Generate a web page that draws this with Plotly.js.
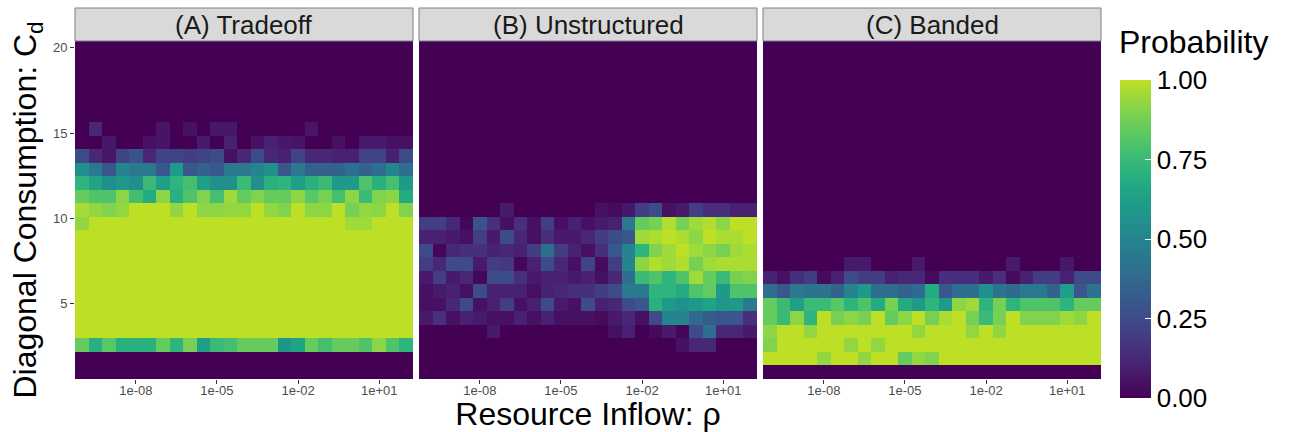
<!DOCTYPE html>
<html>
<head>
<meta charset="utf-8">
<script src="https://cdn.plot.ly/plotly-3.0.1.min.js"></script>
<style>html,body{margin:0;padding:0;background:#fff;}#chart{width:1291px;height:432px;}</style>
</head>
<body>
<div id="chart"></div>
<script>
// Resource inflow rho, as log10 exponents (tile centres)
const rhoExponent = [-10,-9.5,-9,-8.5,-8,-7.5,-7,-6.5,-6,-5.5,-5,-4.5,-4,-3.5,-3,-2.5,-2,-1.5,-1,-0.5,0,0.5,1,1.5,2];
// Diagonal consumption Cd (tile centres)
const cdValues = [1,1.7917,2.5833,3.375,4.1667,4.9583,5.75,6.5417,7.3333,8.125,8.9167,9.7083,10.5,11.2917,12.0833,12.875,13.6667,14.4583,15.25,16.0417,16.8333,17.625,18.4167,19.2083,20];
const xTickVals = [-8,-5,-2,1];
const xTickText = ['1e-08','1e-05','1e-02','1e+01'];
const yTickVals = [5,10,15,20];
const panelTitles = ['(A) Tradeoff','(B) Unstructured','(C) Banded'];
const probTicks = [0,0.25,0.5,0.75,1];
const probTickText = ['0.00','0.25','0.50','0.75','1.00'];

// Probability, rows = Cd (ascending), columns = rho
const probTradeoff = [
[0,0,0,0,0,0,0,0,0,0,0,0,0,0,0,0,0,0,0,0,0,0,0,0,0],
[0,0,0,0,0,0,0,0,0,0,0,0,0,0,0,0,0,0,0,0,0,0,0,0,0],
[0.85,0.7,0.82,0.7,0.7,0.7,0.85,0.72,0.88,0.62,0.75,0.78,0.85,0.85,0.85,0.58,0.65,0.85,0.78,0.85,0.85,0.8,0.92,0.8,0.72],
[1,1,1,1,1,1,1,1,1,1,1,1,1,1,1,1,1,1,1,1,1,1,1,1,1],
[1,1,1,1,1,1,1,1,1,1,1,1,1,1,1,1,1,1,1,1,1,1,1,1,1],
[1,1,1,1,1,1,1,1,1,1,1,1,1,1,1,1,1,1,1,1,1,1,1,1,1],
[1,1,1,1,1,1,1,1,1,1,1,1,1,1,1,1,1,1,1,1,1,1,1,1,1],
[1,1,1,1,1,1,1,1,1,1,1,1,1,1,1,1,1,1,1,1,1,1,1,1,1],
[1,1,1,1,1,1,1,1,1,1,1,1,1,1,1,1,1,1,1,1,1,1,1,1,1],
[1,1,1,1,1,1,1,1,1,1,1,1,1,1,1,1,1,1,1,1,1,1,1,1,1],
[1,1,1,1,1,1,1,1,1,1,1,1,1,1,1,1,1,1,1,1,1,1,1,1,1],
[0.93,1,1,1,1,1,1,1,1,1,1,1,1,1,1,1,1,1,1,1,0.95,0.95,1,1,1],
[0.96,0.93,0.9,0.93,1,1,1,0.93,1,0.92,0.92,0.93,0.93,1,0.93,0.9,1,0.92,0.92,1,0.88,0.93,0.92,1,0.9],
[0.85,0.8,0.8,0.92,0.78,0.68,0.92,0.7,0.8,0.9,0.78,0.95,0.85,0.9,0.85,0.85,0.92,0.82,0.88,0.78,0.92,0.75,0.9,0.92,0.68],
[0.72,0.65,0.55,0.6,0.55,0.75,0.62,0.72,0.78,0.62,0.55,0.55,0.75,0.55,0.7,0.72,0.62,0.7,0.75,0.6,0.6,0.8,0.7,0.78,0.6],
[0.55,0.45,0.3,0.5,0.45,0.45,0.3,0.6,0.3,0.35,0.3,0.45,0.45,0.5,0.55,0.3,0.45,0.35,0.35,0.35,0.4,0.35,0.4,0.5,0.4],
[0.25,0.12,0.07,0.22,0.28,0.12,0.22,0.22,0.2,0.22,0.25,0.05,0.12,0.25,0.12,0.1,0.22,0.12,0.12,0.1,0.1,0.22,0.22,0.1,0.25],
[0,0,0.07,0,0,0.05,0.06,0,0,0.08,0,0.1,0,0.05,0.1,0.07,0.06,0,0,0.05,0,0.08,0.08,0.05,0.05],
[0,0.12,0,0,0,0,0.06,0,0.05,0,0.07,0.07,0,0,0,0,0,0.06,0,0,0,0,0,0,0],
[0,0,0,0,0,0,0,0,0,0,0,0,0,0,0,0,0,0,0,0,0,0,0,0,0],
[0,0,0,0,0,0,0,0,0,0,0,0,0,0,0,0,0,0,0,0,0,0,0,0,0],
[0,0,0,0,0,0,0,0,0,0,0,0,0,0,0,0,0,0,0,0,0,0,0,0,0],
[0,0,0,0,0,0,0,0,0,0,0,0,0,0,0,0,0,0,0,0,0,0,0,0,0],
[0,0,0,0,0,0,0,0,0,0,0,0,0,0,0,0,0,0,0,0,0,0,0,0,0],
[0,0,0,0,0,0,0,0,0,0,0,0,0,0,0,0,0,0,0,0,0,0,0,0,0]
];

const probUnstructured = [
[0,0,0,0,0,0,0,0,0,0,0,0,0,0,0,0,0,0,0,0,0,0,0,0,0],
[0,0,0,0,0,0,0,0,0,0,0,0,0,0,0,0,0,0,0,0,0,0,0,0,0],
[0,0,0,0,0,0,0,0,0,0,0,0,0,0,0,0,0,0,0,0.05,0.12,0.12,0,0,0],
[0,0,0,0,0,0.08,0,0,0,0,0,0,0,0,0.05,0.1,0,0.03,0.08,0.02,0.25,0.4,0.12,0.12,0.08],
[0.08,0.15,0.05,0.1,0.08,0.05,0.05,0.1,0.05,0.1,0.05,0.05,0.05,0.03,0.08,0.12,0.05,0.25,0.5,0.5,0.38,0.32,0.3,0.3,0.15],
[0.05,0.05,0.12,0.25,0.05,0.1,0.2,0.05,0.1,0.25,0.08,0.05,0.25,0.1,0.12,0.25,0.3,0.7,0.6,0.55,0.6,0.65,0.58,0.6,0.45],
[0.05,0.08,0.1,0.05,0.25,0.1,0.1,0.1,0.05,0.1,0.12,0.15,0.15,0.2,0.25,0.45,0.45,0.72,0.72,0.68,0.8,0.84,0.6,0.8,0.8],
[0.08,0.2,0.08,0.12,0.02,0.25,0.25,0.15,0.08,0.1,0.1,0.08,0.1,0.05,0.12,0.4,0.75,0.8,0.72,0.8,0.95,0.85,0.75,0.88,0.9],
[0.2,0.12,0.25,0.25,0.08,0.2,0.18,0.02,0.1,0.25,0.12,0.05,0.22,0.03,0.2,0.5,0.92,0.98,0.95,0.98,0.88,0.95,0.97,0.97,0.97],
[0.25,0.02,0.12,0.15,0.15,0.1,0.12,0.1,0.2,0.4,0.2,0.1,0.05,0.15,0.3,0.5,0.72,0.9,0.95,1,0.95,0.92,0.88,0.95,0.97],
[0.1,0.1,0.08,0.05,0.2,0.08,0.25,0.12,0.05,0.15,0.08,0.08,0.12,0.2,0.25,0.3,0.95,0.97,1,0.97,0.92,1,0.97,0.97,1],
[0.2,0.2,0.12,0.02,0.28,0.15,0.05,0.15,0.05,0.2,0.05,0.1,0.05,0.08,0.1,0.45,0.85,0.88,0.98,0.88,0.95,0.98,0.92,1,1],
[0,0,0,0,0,0,0.08,0,0,0,0,0,0,0.05,0.03,0.07,0.2,0.25,0.05,0.08,0.2,0.15,0.15,0.1,0.1],
[0,0,0,0,0,0,0,0,0,0,0,0,0,0,0,0,0,0,0,0,0,0,0,0,0],
[0,0,0,0,0,0,0,0,0,0,0,0,0,0,0,0,0,0,0,0,0,0,0,0,0],
[0,0,0,0,0,0,0,0,0,0,0,0,0,0,0,0,0,0,0,0,0,0,0,0,0],
[0,0,0,0,0,0,0,0,0,0,0,0,0,0,0,0,0,0,0,0,0,0,0,0,0],
[0,0,0,0,0,0,0,0,0,0,0,0,0,0,0,0,0,0,0,0,0,0,0,0,0],
[0,0,0,0,0,0,0,0,0,0,0,0,0,0,0,0,0,0,0,0,0,0,0,0,0],
[0,0,0,0,0,0,0,0,0,0,0,0,0,0,0,0,0,0,0,0,0,0,0,0,0],
[0,0,0,0,0,0,0,0,0,0,0,0,0,0,0,0,0,0,0,0,0,0,0,0,0],
[0,0,0,0,0,0,0,0,0,0,0,0,0,0,0,0,0,0,0,0,0,0,0,0,0],
[0,0,0,0,0,0,0,0,0,0,0,0,0,0,0,0,0,0,0,0,0,0,0,0,0],
[0,0,0,0,0,0,0,0,0,0,0,0,0,0,0,0,0,0,0,0,0,0,0,0,0],
[0,0,0,0,0,0,0,0,0,0,0,0,0,0,0,0,0,0,0,0,0,0,0,0,0]
];

const probBanded = [
[0,0,0,0,0,0,0,0,0,0,0,0,0,0,0,0,0,0,0,0,0,0,0,0,0],
[1,1,1,1,0.93,1,1,0.93,1,1,0.85,0.93,0.9,1,1,1,1,1,1,1,1,1,1,1,1],
[0.9,1,1,1,1,1,0.93,1,0.93,1,1,1,1,1,1,1,1,1,1,1,1,1,1,1,1],
[0.92,1,1,0.93,1,1,1,1,1,1,1,0.93,1,1,1,0.93,1,0.93,1,1,1,1,1,1,1],
[0.85,0.75,0.92,0.72,1,0.88,0.92,0.88,1,0.85,0.92,1,0.88,0.97,1,0.88,0.75,0.88,1,0.9,0.9,0.9,0.95,0.92,1],
[0.85,0.75,0.62,0.75,0.75,0.82,0.72,0.8,0.68,0.88,0.68,0.6,0.72,0.6,0.92,0.95,0.72,0.88,0.72,0.8,0.8,0.8,0.72,0.85,0.85],
[0.4,0.3,0.45,0.42,0.42,0.35,0.5,0.6,0.4,0.4,0.35,0.38,0.68,0.3,0.4,0.4,0.55,0.42,0.38,0.45,0.45,0.35,0.62,0.3,0.42],
[0.1,0.05,0.15,0.2,0.03,0.1,0.25,0.2,0.2,0.1,0.12,0.12,0.03,0.15,0.15,0.15,0.08,0.15,0.03,0.1,0.2,0.2,0.1,0.25,0.25],
[0,0,0,0,0,0,0.08,0.08,0,0,0,0.08,0,0,0,0,0,0,0.08,0,0,0,0.07,0,0],
[0,0,0,0,0,0,0,0,0,0,0,0,0,0,0,0,0,0,0,0,0,0,0,0,0],
[0,0,0,0,0,0,0,0,0,0,0,0,0,0,0,0,0,0,0,0,0,0,0,0,0],
[0,0,0,0,0,0,0,0,0,0,0,0,0,0,0,0,0,0,0,0,0,0,0,0,0],
[0,0,0,0,0,0,0,0,0,0,0,0,0,0,0,0,0,0,0,0,0,0,0,0,0],
[0,0,0,0,0,0,0,0,0,0,0,0,0,0,0,0,0,0,0,0,0,0,0,0,0],
[0,0,0,0,0,0,0,0,0,0,0,0,0,0,0,0,0,0,0,0,0,0,0,0,0],
[0,0,0,0,0,0,0,0,0,0,0,0,0,0,0,0,0,0,0,0,0,0,0,0,0],
[0,0,0,0,0,0,0,0,0,0,0,0,0,0,0,0,0,0,0,0,0,0,0,0,0],
[0,0,0,0,0,0,0,0,0,0,0,0,0,0,0,0,0,0,0,0,0,0,0,0,0],
[0,0,0,0,0,0,0,0,0,0,0,0,0,0,0,0,0,0,0,0,0,0,0,0,0],
[0,0,0,0,0,0,0,0,0,0,0,0,0,0,0,0,0,0,0,0,0,0,0,0,0],
[0,0,0,0,0,0,0,0,0,0,0,0,0,0,0,0,0,0,0,0,0,0,0,0,0],
[0,0,0,0,0,0,0,0,0,0,0,0,0,0,0,0,0,0,0,0,0,0,0,0,0],
[0,0,0,0,0,0,0,0,0,0,0,0,0,0,0,0,0,0,0,0,0,0,0,0,0],
[0,0,0,0,0,0,0,0,0,0,0,0,0,0,0,0,0,0,0,0,0,0,0,0,0],
[0,0,0,0,0,0,0,0,0,0,0,0,0,0,0,0,0,0,0,0,0,0,0,0,0]
];

// viridis, truncated at 0.9 (as ggplot scale_fill_viridis_c(end = 0.9))
const viridisStops = [
[0.00,'#440154'],[0.05,'#471365'],[0.10,'#482475'],[0.15,'#463480'],[0.20,'#414487'],
[0.25,'#3B528B'],[0.30,'#355F8D'],[0.35,'#2F6C8E'],[0.40,'#2A788E'],[0.45,'#25848E'],
[0.50,'#21918C'],[0.55,'#1E9C89'],[0.60,'#22A884'],[0.65,'#2FB47C'],[0.70,'#44BF70'],
[0.75,'#5EC962'],[0.80,'#7AD151'],[0.85,'#9BD93C'],[0.90,'#BDDF26']
];
const colorscale = viridisStops.map(s => [s[0] / 0.9, s[1]]);

const W = 1291, H = 432;
const panelPx = [[75,413],[419,757],[763,1101]];
const plotTop = 41, plotBottom = 379, stripTop = 8;
const xDomains = panelPx.map(p => [p[0]/W, p[1]/W]);
const yDomain = [1 - plotBottom/H, 1 - plotTop/H];
const fontFam = 'Liberation Sans, Arial, sans-serif';

const zs = [probTradeoff, probUnstructured, probBanded];
const data = zs.map((z, k) => ({
  type: 'heatmap',
  x: rhoExponent,
  y: cdValues,
  z: z,
  zmin: 0, zmax: 1,
  colorscale: colorscale,
  xaxis: k === 0 ? 'x' : 'x' + (k + 1),
  yaxis: k === 0 ? 'y' : 'y' + (k + 1),
  showscale: k === 0,
  colorbar: {
    x: 1120/W, xanchor: 'left', xpad: 0,
    y: 1 - 239/H, yanchor: 'middle', ypad: 0,
    len: 318, lenmode: 'pixels',
    thickness: 31, thicknessmode: 'pixels',
    outlinewidth: 0,
    tickmode: 'array', tickvals: probTicks, ticktext: probTickText,
    ticks: 'inside', ticklen: 6, tickcolor: '#ffffff', tickwidth: 1,
    tickfont: {family: fontFam, size: 26, color: '#000000'}
  }
}));

const layout = {
  width: W, height: H,
  margin: {l: 0, r: 0, t: 0, b: 0, pad: 0},
  paper_bgcolor: '#ffffff',
  plot_bgcolor: '#ffffff',
  font: {family: fontFam},
  showlegend: false,
  shapes: [],
  annotations: []
};

for (let k = 0; k < 3; k++) {
  const xn = k === 0 ? 'xaxis' : 'xaxis' + (k + 1);
  const yn = k === 0 ? 'yaxis' : 'yaxis' + (k + 1);
  const xa = k === 0 ? 'x' : 'x' + (k + 1);
  const ya = k === 0 ? 'y' : 'y' + (k + 1);
  layout[xn] = {
    domain: xDomains[k], anchor: ya,
    range: [-10.25, 2.25], fixedrange: true,
    tickmode: 'array', tickvals: xTickVals, ticktext: xTickText,
    ticks: 'outside', ticklen: 4, tickwidth: 1, tickcolor: '#333333',
    ticklabelstandoff: -5,
    tickfont: {family: fontFam, size: 13, color: '#4D4D4D'},
    showgrid: false, zeroline: false, showline: false
  };
  layout[yn] = {
    domain: yDomain, anchor: xa,
    range: [0.6042, 20.3958], fixedrange: true,
    tickmode: 'array', tickvals: yTickVals,
    ticks: k === 0 ? 'outside' : '', ticklen: 4, tickwidth: 1, tickcolor: '#333333',
    showticklabels: k === 0,
    tickfont: {family: fontFam, size: 13, color: '#4D4D4D'},
    showgrid: false, zeroline: false, showline: false
  };
  // facet strip
  layout.shapes.push({
    type: 'rect', xref: 'paper', yref: 'paper',
    x0: xDomains[k][0], x1: xDomains[k][1],
    y0: 1 - plotTop/H, y1: 1 - stripTop/H,
    fillcolor: '#D9D9D9', line: {color: '#7F7F7F', width: 1}, layer: 'above'
  });
  layout.annotations.push({
    xref: 'paper', yref: 'paper',
    x: (xDomains[k][0] + xDomains[k][1]) / 2,
    y: 1 - (plotTop + stripTop) / 2 / H,
    xanchor: 'center', yanchor: 'middle',
    text: panelTitles[k], showarrow: false,
    font: {family: fontFam, size: 26, color: '#1A1A1A'}
  });
}

layout.yaxis.title = {text: 'Diagonal Consumption: C<sub>d</sub>', font: {family: fontFam, size: 32, color: '#000000'}, standoff: 6};
layout.xaxis2.title = {text: 'Resource Inflow: ρ', font: {family: fontFam, size: 32, color: '#000000'}, standoff: 7};

layout.annotations.push({
  xref: 'paper', yref: 'paper',
  x: 1117/W, y: 1 - 42/H, xanchor: 'left', yanchor: 'middle',
  text: 'Probability', showarrow: false,
  font: {family: fontFam, size: 32, color: '#000000'}
});

Plotly.newPlot('chart', data, layout, {staticPlot: true, displayModeBar: false});
</script>
</body>
</html>
